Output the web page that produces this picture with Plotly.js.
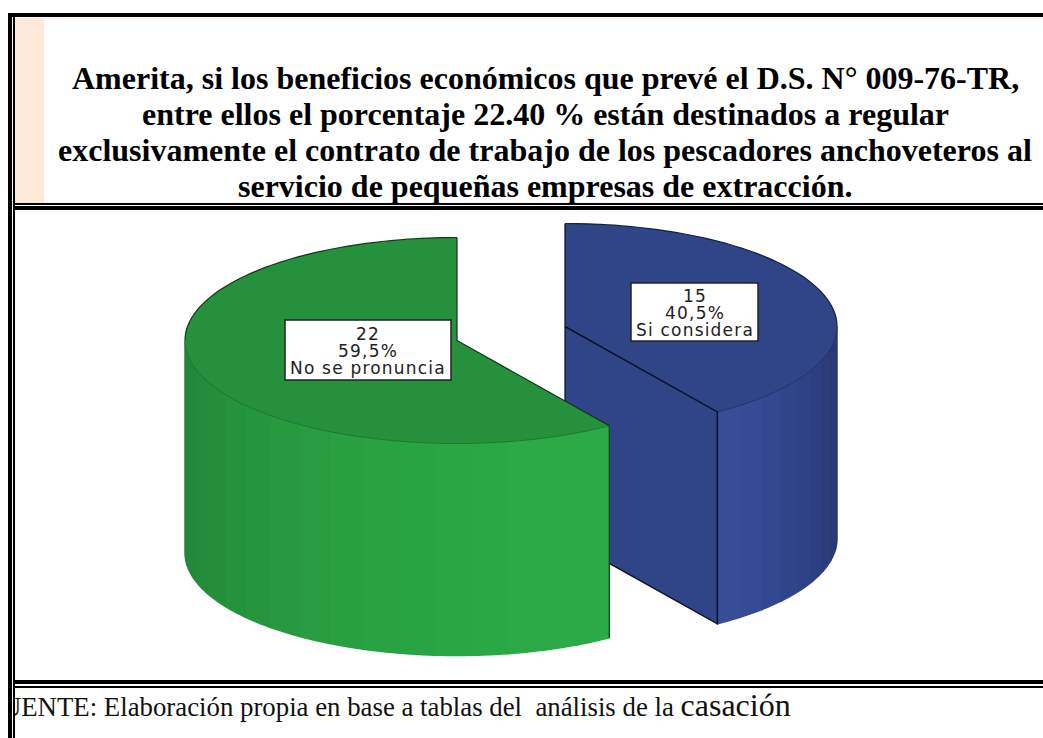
<!DOCTYPE html>
<html><head><meta charset="utf-8">
<script src="https://cdn.plot.ly/plotly-3.0.1.min.js"></script>
<style>html,body{margin:0;padding:0;background:#fff;overflow:hidden}#chart{width:1063px;height:738px;margin-left:-20px}
text[style*="DejaVu"]{letter-spacing:1.2px}</style>
</head><body><div id="chart"></div>
<script>
const categories = ["Si considera", "No se pronuncia"];
const counts = [15, 22];
const percentLabels = ["40,5%", "59,5%"];
const titleLines = [
  "Amerita, si los beneficios económicos que prevé el D.S. N° 009-76-TR,",
  "entre ellos el porcentaje 22.40 % están destinados a regular",
  "exclusivamente el contrato de trabajo de los pescadores anchoveteros al",
  "servicio de pequeñas empresas de extracción."
];
const footerText = "FUENTE: Elaboración propia en base a tablas del  análisis de la ";
const footerBig = "casación";

// Pie geometry on a page-sized hidden axis
const RX = 272, RY = 103, DEPTH = 212;
const centers = [{x: 565, y: 326.5}, {x: 457, y: 340.5}];
const total = counts.reduce((a, b) => a + b, 0);
const sweep = counts[0] / total * 360;

function pt(c, deg, dz) {
  const r = deg * Math.PI / 180;
  return [c.x + RX * Math.sin(r), c.y - RY * Math.cos(r) + (dz || 0)];
}
function arc(c, from, to, dz) {
  const n = Math.max(2, Math.ceil(Math.abs(to - from) / 1.5)), out = [];
  for (let i = 0; i <= n; i++) out.push(pt(c, from + (to - from) * i / n, dz));
  return out;
}
function poly(points, fill, line, width) {
  return {type: "scatter", mode: line ? "lines" : "none", fill: "toself", fillcolor: fill,
    x: points.map(p => p[0]), y: points.map(p => p[1]),
    line: {color: line || fill, width: width || 0, simplify: false}, hoverinfo: "skip", showlegend: false};
}
function stroke(points, color, width) {
  return {type: "scatter", mode: "lines", x: points.map(p => p[0]), y: points.map(p => p[1]),
    line: {color: color, width: width, simplify: false}, hoverinfo: "skip", showlegend: false};
}
function bands(c, from, to, colors) {
  const out = [], n = colors.length;
  for (let i = 0; i < n; i++) {
    const a = from + (to - from) * i / n, b = from + (to - from) * (i + 1) / n;
    const pts = arc(c, a, b, 0).concat(arc(c, b, a, DEPTH));
    pts.push(pts[0]);
    out.push(poly(pts, colors[i], colors[i], 1.5));
  }
  return out;
}

const blue = centers[0], green = centers[1];
const blueCorner = pt(blue, sweep), greenCorner = pt(green, sweep);
const blueBands = ["#374e97","#354b93","#334890","#30448a","#2f4287","#2d3f80","#2c3c79","#2b3a74","#2a3870"];
const greenBands = ["#2bab48","#2baa47","#2baa47","#2aa846","#2aa645","#29a444","#29a243","#28a042","#279c40","#27993f","#26963e","#25923c","#258e3b","#248b3a","#238839","#238638"];

const traces = [].concat(
  bands(blue, sweep, 90, blueBands),
  [poly([[blue.x, blue.y], blueCorner, [blueCorner[0], blueCorner[1] + DEPTH], [blue.x, blue.y + DEPTH]], "#2f4588")],
  [poly([[blue.x, blue.y]].concat(arc(blue, 0, sweep)), "#2f4588")],
  [stroke(arc(blue, 0, 90), "#14203f", 1.2)],
  [stroke(arc(blue, 90, sweep), "#1f2f62", 0.8)],
  [stroke([[blue.x, blue.y - RY], [blue.x, blue.y + DEPTH]], "#111a33", 1.3)],
  [stroke([[blue.x, blue.y], blueCorner, [blueCorner[0], blueCorner[1] + DEPTH], [blue.x, blue.y + DEPTH]], "#0c1328", 1.5)],
  bands(green, sweep, 270, greenBands),
  [poly([[green.x, green.y]].concat(arc(green, 360, sweep)), "#26913c")],
  [stroke(arc(green, 360, 270), "#0f3a18", 1.2)],
  [stroke(arc(green, 270, sweep), "#1c7030", 0.8)],
  [stroke([[green.x, green.y - RY], [green.x, green.y], greenCorner], "#10341a", 1.2)],
  [stroke([greenCorner, [greenCorner[0], greenCorner[1] + DEPTH]], "#14431f", 1.3)],
  [{type: "scatter", mode: "text", x: [-13], y: [709], textposition: "middle right",
    text: [footerText + '<span style="font-size:32px">' + footerBig + '</span>'],
    textfont: {family: "Liberation Serif", size: 26.8, color: "#111"}, hoverinfo: "skip", showlegend: false, cliponaxis: false}]
);

function rect(x0, y0, x1, y1, color, layer, line) {
  return {type: "rect", xref: "x", yref: "y", x0, y0, x1, y1, fillcolor: color, line: line || {width: 0}, layer: layer || "above"};
}
const boxLine = {color: "#222", width: 1.5};
const labelBoxes = [
  {cx: 694.5, cy: 312, w: 127, h: 58},
  {cx: 368, cy: 350, w: 166, h: 60}
];
const shapes = [
  rect(15, 19, 44, 203, "#fde9d9", "below"),
  rect(15, 18, 1043, 19, "#fde9d9", "below"),
  rect(-20, 0, 8, 738, "#ffffff"),
  rect(8, 13, 12, 738, "#000000"),
  rect(12, 17, 13, 738, "#ffffff"),
  rect(13, 17, 15, 738, "#000000"),
  rect(8, 13, 1043, 17, "#000000"),
  rect(13, 203, 1043, 205, "#000000"),
  rect(13, 206, 1043, 210, "#000000"),
  rect(13, 680, 1043, 684, "#000000"),
  rect(13, 686, 1043, 688, "#000000")
].concat(labelBoxes.map(b => rect(b.cx - b.w / 2, b.cy - b.h / 2, b.cx + b.w / 2, b.cy + b.h / 2, "#ffffff", "above", boxLine)));

const annotations = [];
titleLines.forEach((t, i) => annotations.push({xref: "x", yref: "y", x: 545, y: 77.5 + i * 36, showarrow: false,
  text: t, font: {family: "Liberation Serif", size: 32, weight: 700, color: "#000"}}));
labelBoxes.forEach((b, i) => {
  [String(counts[i]), percentLabels[i], categories[i]].forEach((t, j) => annotations.push({
    xref: "x", yref: "y", x: b.cx, y: b.cy + 0.5 + (j - 1) * 17, showarrow: false, text: t,
    font: {family: "DejaVu Sans", size: 17, color: "#222"}, borderpad: 0, borderwidth: 0}));
});

const layout = {
  width: 1063, height: 738, margin: {l: 0, r: 0, t: 0, b: 0},
  paper_bgcolor: "#ffffff", plot_bgcolor: "rgba(0,0,0,0)", showlegend: false,
  xaxis: {range: [-20, 1043], visible: false, fixedrange: true},
  yaxis: {range: [738, 0], visible: false, fixedrange: true},
  shapes: shapes,
  annotations: annotations
};
Plotly.newPlot("chart", traces, layout, {displayModeBar: false, staticPlot: true});
</script></body></html>
